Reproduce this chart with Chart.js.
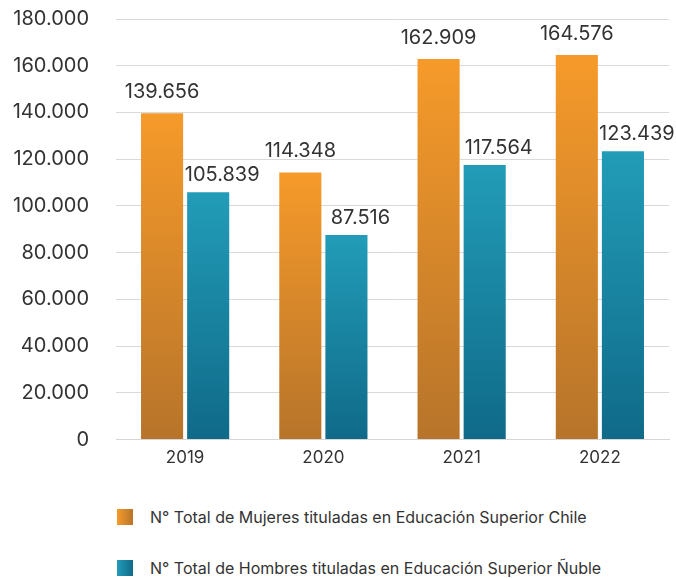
<!DOCTYPE html>
<html>
<head>
<meta charset="utf-8">
<script src="https://cdn.jsdelivr.net/npm/chart.js@4/dist/chart.umd.min.js"></script>
<style>
  html, body { margin: 0; padding: 0; background: #ffffff; }
  #wrap { position: relative; width: 676px; height: 578px; overflow: hidden; font-family: Inter, "Noto Sans", sans-serif; }
  #c { position: absolute; left: 0; top: 0; }
  .leg { position: absolute; left: 117px; height: 16px; display: flex; align-items: center; white-space: nowrap; }
  .leg .sw { width: 16px; height: 16px; flex: none; }
  .leg .tx { margin-left: 17px; font-size: 16px; color: #333333; line-height: 16px; }
</style>
</head>
<body>
<div id="wrap">
  <canvas id="c" width="676" height="485"></canvas>
  <div class="leg" id="leg0" style="top:509px"><div class="sw" style="background:linear-gradient(to right,#F59A2A,#B8742A)"></div><div class="tx"></div></div>
  <div class="leg" id="leg1" style="top:560px"><div class="sw" style="background:linear-gradient(to right,#229DB9,#0F6A88)"></div><div class="tx"></div></div>
</div>
<script>
const categories = ['2019', '2020', '2021', '2022'];
const seriesNames = [
  'N° Total de Mujeres tituladas en Educación Superior Chile',
  'N° Total de Hombres tituladas en Educación Superior Ñuble'
];
const mujeres = [139656, 114348, 162909, 164576];
const hombres = [105839, 87516, 117564, 123439];
const yTicksMin = 0;
const yTicksMax = 180000;
const yTickStep = 20000;

document.querySelector('#leg0 .tx').textContent = seriesNames[0];
document.querySelector('#leg1 .tx').textContent = seriesNames[1];

function fmt(v) {
  return String(Math.round(v)).replace(/\B(?=(\d{3})+(?!\d))/g, '.');
}

function barGradient(top, bottom) {
  return function (ctx) {
    const chart = ctx.chart;
    const area = chart.chartArea;
    if (!area || ctx.type !== 'data') return top;
    const yScale = chart.scales.y;
    const v = ctx.raw;
    const y0 = yScale.getPixelForValue(v);
    const y1 = yScale.getPixelForValue(0);
    if (!isFinite(y0) || !isFinite(y1) || y0 === y1) return top;
    const g = chart.ctx.createLinearGradient(0, y0, 0, y1);
    g.addColorStop(0, top);
    g.addColorStop(1, bottom);
    return g;
  };
}

const valueLabels = {
  id: 'valueLabels',
  afterDatasetsDraw(chart) {
    const ctx = chart.ctx;
    ctx.save();
    ctx.font = '20px Inter, "Noto Sans", sans-serif';
    ctx.fillStyle = '#333333';
    ctx.textAlign = 'center';
    ctx.textBaseline = 'alphabetic';
    chart.data.datasets.forEach((ds, i) => {
      const meta = chart.getDatasetMeta(i);
      meta.data.forEach((bar, j) => {
        ctx.fillText(fmt(ds.data[j]), bar.x + (ds.labelDx || 0), bar.y - (ds.labelGap || 0));
      });
    });
    ctx.restore();
  }
};

new Chart(document.getElementById('c'), {
  type: 'bar',
  data: {
    labels: categories,
    datasets: [
      {
        label: seriesNames[0],
        data: mujeres,
        backgroundColor: barGradient('#F69A2A', '#B7742A'),
        borderWidth: 0,
        labelDx: 0,
        labelGap: 15
      },
      {
        label: seriesNames[1],
        data: hombres,
        backgroundColor: barGradient('#229CB8', '#0F6A88'),
        borderWidth: 0,
        labelDx: 14,
        labelGap: 11
      }
    ]
  },
  options: {
    responsive: false,
    animation: false,
    events: [],
    categoryPercentage: 0.667,
    barPercentage: 0.913,
    layout: { padding: { left: 12, right: 7, top: 19, bottom: 9 } },
    plugins: {
      legend: { display: false },
      tooltip: { enabled: false }
    },
    scales: {
      x: {
        grid: { display: false, drawTicks: false },
        border: { display: true, color: '#d6d6d6', width: 1 },
        ticks: {
          color: '#333333',
          font: { family: 'Inter, "Noto Sans", sans-serif', size: 17 },
          padding: 8
        }
      },
      y: {
        min: yTicksMin,
        max: yTicksMax,
        afterFit(scale) { scale.width = 104; scale.paddingTop = 0; scale.paddingBottom = 0; },
        grid: { color: '#d9d9d9', lineWidth: 1, drawTicks: false },
        border: { display: false },
        ticks: {
          stepSize: yTickStep,
          color: '#333333',
          font: { family: 'Inter, "Noto Sans", sans-serif', size: 20 },
          padding: 27,
          callback: (v) => fmt(v)
        }
      }
    }
  },
  plugins: [valueLabels]
});
</script>
</body>
</html>
